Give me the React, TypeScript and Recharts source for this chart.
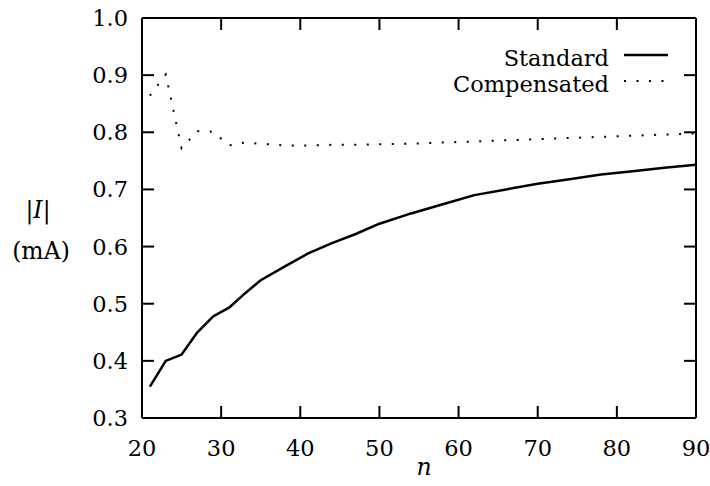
import React from 'react';
import { LineChart, Line, XAxis, YAxis, Legend, Label, ReferenceLine } from 'recharts';

const FONT = '"DejaVu Serif", serif';
const FONT_SIZE = 22.5;
const TICK_LEN = 12;

// n values (x) and the two measured currents (mA)
const nValues = [21, 23, 25, 27, 29, 31, 33, 35, 38, 41, 44, 47, 50, 54, 58, 62, 66, 70, 74, 78, 82, 86, 90];
const standard = [
    0.355, 0.4, 0.411, 0.45, 0.478, 0.493, 0.518, 0.541, 0.565, 0.588, 0.606, 0.622,
    0.64, 0.658, 0.674, 0.69, 0.7, 0.71, 0.718, 0.726, 0.732, 0.738, 0.743,
];
const compensated = [
    0.864, 0.901, 0.772, 0.802, 0.801, 0.777, 0.782, 0.78, 0.777, 0.777, 0.778, 0.778,
    0.779, 0.78, 0.782, 0.784, 0.786, 0.788, 0.79, 0.792, 0.794, 0.796, 0.798,
];

const xTicks = [20, 30, 40, 50, 60, 70, 80, 90];
const yTicks = [0.3, 0.4, 0.5, 0.6, 0.7, 0.8, 0.9, 1.0];

const legendItems = [
    { name: 'Standard', dash: undefined },
    { name: 'Compensated', dash: '2 10.5' },
];

const data = nValues.map((n, i) => ({ n, standard: standard[i], compensated: compensated[i] }));

const axisStroke = { stroke: '#000', strokeWidth: 2 };
const X_GAP = 22; // axis line -> top of x labels
const Y_GAP = 14; // axis line -> right edge of y labels

// tick renderers: inward tick mark + label (positions come from the axis)
const BottomTick = ({ x, y, payload }: any) => (
    <g>
        <line x1={x} x2={x} y1={y - X_GAP} y2={y - X_GAP - TICK_LEN} stroke="#000" strokeWidth={2} />
        <text x={x} y={y} dy="0.71em" textAnchor="middle" fill="#000" fontSize={FONT_SIZE} fontFamily={FONT}>
            {payload.value}
        </text>
    </g>
);

const LeftTick = ({ x, y, payload }: any) => (
    <g>
        <line x1={x + Y_GAP} x2={x + Y_GAP + TICK_LEN} y1={y} y2={y} stroke="#000" strokeWidth={2} />
        <text x={x} y={y} dy="0.355em" textAnchor="end" fill="#000" fontSize={FONT_SIZE} fontFamily={FONT}>
            {Number(payload.value).toFixed(1)}
        </text>
    </g>
);

const TopTick = ({ x, y }: any) => (
    <line x1={x} x2={x} y1={y} y2={y + TICK_LEN} stroke="#000" strokeWidth={2} />
);

// right-hand ticks: only the last few pixels of a full-width reference line
const RightTickShape = (p: any) => (
    <line x1={p.x2 - TICK_LEN} x2={p.x2} y1={p.y2} y2={p.y2} stroke="#000" strokeWidth={2} />
);

const renderLegend = () => (
    <div style={{ fontFamily: FONT, fontSize: FONT_SIZE, color: '#000', lineHeight: '26px' }}>
        {legendItems.map((item) => (
            <div key={item.name} style={{ display: 'flex', justifyContent: 'flex-end', alignItems: 'flex-start' }}>
                <span>{item.name}</span>
                <svg width={44} height={26} style={{ marginLeft: 15 }}>
                    <line
                        x1={0}
                        y1={10}
                        x2={44}
                        y2={10}
                        stroke="#000"
                        strokeWidth={item.dash ? 2 : 2.5}
                        strokeDasharray={item.dash}
                    />
                </svg>
            </div>
        ))}
    </div>
);

export default function App() {
    return (
        <div style={{ position: 'absolute', left: 0, top: 0, width: 710, height: 486, background: '#fff' }}>
            <LineChart
                width={710}
                height={486}
                data={data}
                margin={{ top: 17, right: 13, bottom: 0, left: 0 }}
                style={{ fontFamily: FONT }}
            >
                <XAxis
                    dataKey="n"
                    type="number"
                    domain={[20, 90]}
                    ticks={xTicks}
                    height={68}
                    axisLine={axisStroke}
                    tickLine={false}
                    tickSize={0}
                    tickMargin={X_GAP}
                    tick={BottomTick}
                >
                    <Label
                        content={({ viewBox }: any) => (
                            <text
                                x={viewBox.x + viewBox.width / 2 + 5}
                                y={viewBox.y + 57}
                                textAnchor="middle"
                                fontFamily={FONT}
                                fontSize={FONT_SIZE + 1}
                                fontStyle="italic"
                                fill="#000"
                            >
                                n
                            </text>
                        )}
                    />
                </XAxis>
                <YAxis
                    type="number"
                    domain={[0.3, 1.0]}
                    ticks={yTicks}
                    width={142}
                    axisLine={axisStroke}
                    tickLine={false}
                    tickSize={0}
                    tickMargin={Y_GAP}
                    tick={LeftTick}
                >
                    <Label
                        content={({ viewBox }: any) => (
                            <g fontFamily={FONT} fontSize={FONT_SIZE + 1} fill="#000">
                                <text x={viewBox.x + 38} y={viewBox.y + viewBox.height / 2} textAnchor="middle">
                                    |<tspan fontStyle="italic">I</tspan>|
                                </text>
                                <text x={viewBox.x + 41} y={viewBox.y + viewBox.height / 2 + 41} textAnchor="middle">
                                    (mA)
                                </text>
                            </g>
                        )}
                    />
                </YAxis>
                {/* mirrored top / right axes: frame and inward ticks only */}
                <XAxis
                    xAxisId="top"
                    orientation="top"
                    dataKey="n"
                    type="number"
                    domain={[20, 90]}
                    ticks={xTicks}
                    height={1}
                    axisLine={axisStroke}
                    tickLine={false}
                    tickSize={0}
                    tickMargin={0}
                    tick={TopTick}
                />
                <YAxis
                    yAxisId="right"
                    orientation="right"
                    type="number"
                    domain={[0.3, 1.0]}
                    ticks={yTicks}
                    width={1}
                    axisLine={axisStroke}
                    tickLine={false}
                    tick={false}
                />
                {yTicks.map((v) => (
                    <ReferenceLine key={v} y={v} shape={RightTickShape} />
                ))}
                <Legend
                    layout="horizontal"
                    verticalAlign="middle"
                    align="center"
                    content={renderLegend}
                    wrapperStyle={{ top: 45, right: 42, left: 'auto', width: 'auto' }}
                />
                <Line
                    type="linear"
                    dataKey="standard"
                    stroke="#000"
                    strokeWidth={2.5}
                    strokeLinejoin="round"
                    dot={false}
                    isAnimationActive={false}
                    legendType="none"
                />
                <Line
                    type="linear"
                    dataKey="compensated"
                    stroke="#000"
                    strokeWidth={2}
                    strokeDasharray="2 10.5"
                    dot={false}
                    isAnimationActive={false}
                    legendType="none"
                />
            </LineChart>
        </div>
    );
}
